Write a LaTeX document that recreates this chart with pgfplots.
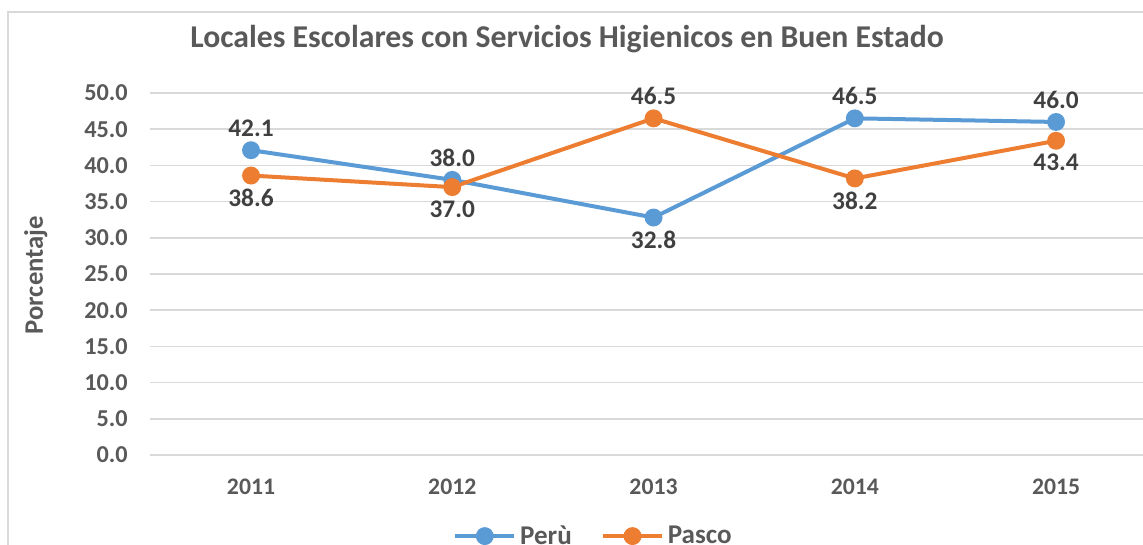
\documentclass[border=0pt]{standalone}
\usepackage{pgfplots}
\pgfplotsset{compat=1.18}
\usepackage{fontspec}
\setmainfont{Carlito}
\definecolor{peru}{HTML}{5B9BD5}
\definecolor{pasco}{HTML}{ED7D31}
\definecolor{txt}{HTML}{595959}
\definecolor{lbl}{HTML}{404040}
\definecolor{grd}{HTML}{D9D9D9}
\begin{document}
\begin{tikzpicture}[x=0.75pt,y=-0.75pt]
\useasboundingbox (0,0) rectangle (1143,545);
\draw[grd, line width=1.2pt] (8,545) -- (8,12) -- (1143,12);
\begin{axis}[
    at={(112.5pt,-341.25pt)}, anchor=south west,
    scale only axis,
    width=744.75pt, height=271.5pt,
    xmin=0.498, xmax=5.432,
    ymin=0, ymax=50,
    ytick={0,5,...,50},
    xtick={1,2,3,4,5},
    xticklabels={2011,2012,2013,2014,2015},
    ymajorgrids,
    major grid style={grd, line width=1.1pt},
    axis line style={draw=none},
    major tick length=0pt,
    clip=false,
    /pgf/number format/assume math mode=true,
    yticklabel={\pgfmathprintnumber[fixed,fixed zerofill,precision=1]{\tick}},
    yticklabel style={anchor=east, inner sep=0pt, xshift=-16.5pt, font=\fontsize{18.2}{20}\selectfont\bfseries, text=txt},
    xticklabel style={anchor=center, yshift=-24pt, font=\fontsize{17.8}{20}\selectfont\bfseries, text=txt},
    title={Locales Escolares con Servicios Higienicos en Buen Estado},
    title style={at={(axis description cs:0.42,1.103)}, anchor=base, font=\fontsize{23.8}{26}\selectfont\bfseries, text=txt},
    ylabel={Porcentaje},
    ylabel style={at={(axis description cs:-0.115,0.497)}, anchor=center, rotate=0, font=\fontsize{20}{22}\selectfont\bfseries, text=txt},
    nodes near coords={\pgfmathprintnumber[fixed,fixed zerofill,precision=1]{\pgfplotspointmeta}},
    visualization depends on={value \thisrow{pos} \as \lpos},
    every node near coord/.append style={anchor=\lpos, inner sep=0pt, outer sep=10pt, font=\fontsize{19}{21}\selectfont\bfseries, text=lbl},
    legend columns=2,
    legend style={at={(axis description cs:0.447,-0.224)}, anchor=center, draw=none, fill=none,
        font=\fontsize{20.3}{22}\selectfont\bfseries, text=txt,
        /tikz/every odd column/.append style={column sep=1pt},
        /tikz/every even column/.append style={column sep=20pt}},
    legend image code/.code={
        \draw[mark repeat=2,mark phase=2,#1] plot coordinates {(0pt,0pt) (22pt,0pt) (44pt,0pt)};
    },
]
\addplot[peru, line width=3pt, mark=*, mark size=5.2pt, mark options={solid}] table[x=x, y=y, meta=y] {
x y pos
1 42.1 south
2 38.0 south
3 32.8 north
4 46.5 south
5 46.0 south
};
\addlegendentry{Perù}
\addplot[pasco, line width=3pt, mark=*, mark size=5.2pt, mark options={solid}] table[x=x, y=y, meta=y] {
x y pos
1 38.6 north
2 37.0 north
3 46.5 south
4 38.2 north
5 43.4 north
};
\addlegendentry{Pasco}
\end{axis}
\end{tikzpicture}
\end{document}
